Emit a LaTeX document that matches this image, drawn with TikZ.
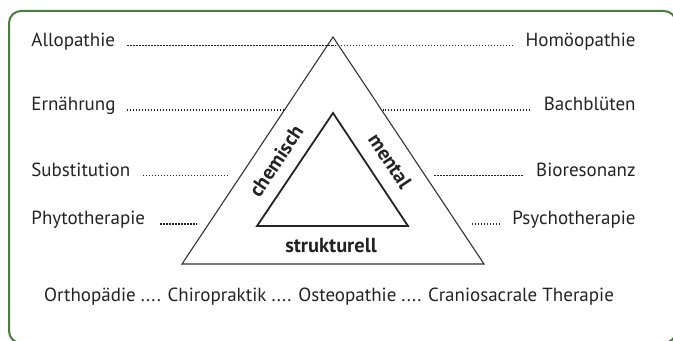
\documentclass[tikz,border=0pt]{standalone}
\usepackage{fontspec}
\setmainfont{PT Sans}
\usetikzlibrary{positioning}

\definecolor{framegreen}{RGB}{70,128,54}
\definecolor{textgray}{RGB}{35,35,35}

\tikzstyle{term} = [inner sep=0pt, text=textgray, font=\fontsize{9.5}{11}\selectfont]
\tikzstyle{side} = [inner sep=0pt, text=textgray, font=\bfseries\fontsize{10.2}{12}\selectfont]
\tikzstyle{leader} = [line width=0.7pt, dash pattern=on 0.7pt off 0.8pt, textgray]

\begin{document}
\begin{tikzpicture}[x=0.5pt, y=-0.5pt]
	\useasboundingbox (0,0) rectangle (673,341);
	% Frame
	\draw [framegreen, line width=1pt, rounded corners=6pt] (9,11) rectangle (676,343);
	% Triangles
	\coordinate (OuterTop) at (333,37);
	\coordinate (OuterLeft) at (182,264);
	\coordinate (OuterRight) at (484,264);
	\coordinate (InnerTop) at (333,113);
	\coordinate (InnerLeft) at (257,226);
	\coordinate (InnerRight) at (408,226);
	\draw [black!80, line width=0.55pt] (OuterTop) -- (OuterRight) -- (OuterLeft) -- cycle;
	\draw [textgray, line width=0.9pt] (InnerTop) -- (InnerRight) -- (InnerLeft) -- cycle;
	% Place nodes
	\node [term, anchor=base west] (Allopathie) at (31,46.5) {Allopathie};
	\node [term, anchor=base west] (Ernaehrung) at (31,111) {Ernährung};
	\node [term, anchor=base west] (Substitution) at (31,176.5) {Substitution};
	\node [term, anchor=base west] (Phytotherapie) at (31,225) {Phytotherapie};
	\node [term, anchor=base east] (Homoeopathie) at (636,46.5) {Homöopathie};
	\node [term, anchor=base east] (Bachblueten) at (636,111) {Bachblüten};
	\node [term, anchor=base east] (Bioresonanz) at (636,176.5) {Bioresonanz};
	\node [term, anchor=base east] (Psychotherapie) at (636,225) {Psychotherapie};
	\node [term, anchor=base] (Manuell) at (329,301.5) {Orthopädie .... Chiropraktik .... Osteopathie .... Craniosacrale Therapie};
	\node [side, rotate=56.4] (Chemisch) at (276,161) {chemisch};
	\node [side, rotate=-56.4] (Mental) at (390,161) {mental};
	\node [side, anchor=base] (Strukturell) at (331,253) {strukturell};
	% Leader ends
	\coordinate (AllopathieEnd) at (333,45.5);
	\coordinate (ErnaehrungEnd) at (284,110);
	\coordinate (SubstitutionEnd) at (229,175.5);
	\coordinate (PhytotherapieEnd) at (197,224);
	\coordinate (HomoeopathieEnd) at (333,45.5);
	\coordinate (BachbluetenEnd) at (383,110);
	\coordinate (BioresonanzEnd) at (433,175.5);
	\coordinate (PsychotherapieEnd) at (471,224);
	% Draw leaders
	\draw [leader] ([xshift=6pt, yshift=0.5pt]Allopathie.base east) -- (AllopathieEnd);
	\draw [leader] ([xshift=5.5pt, yshift=0.5pt]Ernaehrung.base east) -- (ErnaehrungEnd);
	\draw [leader] ([xshift=6pt, yshift=0.5pt]Substitution.base east) -- (SubstitutionEnd);
	\draw [leader] ([xshift=7.5pt, yshift=0.5pt]Phytotherapie.base east) -- (PhytotherapieEnd);
	\draw [leader] ([xshift=-6pt, yshift=0.5pt]Homoeopathie.base west) -- (HomoeopathieEnd);
	\draw [leader] ([xshift=-6.5pt, yshift=0.5pt]Bachblueten.base west) -- (BachbluetenEnd);
	\draw [leader] ([xshift=-6.5pt, yshift=0.5pt]Bioresonanz.base west) -- (BioresonanzEnd);
	\draw [leader] ([xshift=-6pt, yshift=0.5pt]Psychotherapie.base west) -- (PsychotherapieEnd);
\end{tikzpicture}
\end{document}
